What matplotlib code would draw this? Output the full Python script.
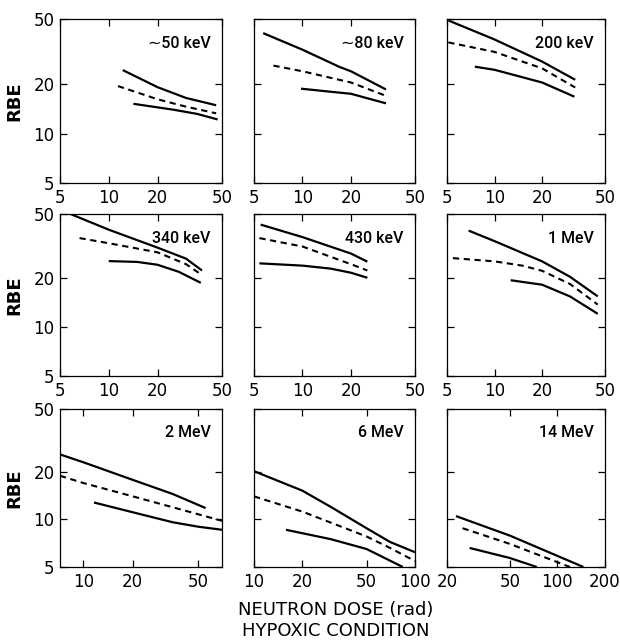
import numpy as np
import matplotlib.pyplot as plt
from matplotlib.ticker import FixedLocator, NullLocator

''' RBE vs dosis de neutrones, condicion hipoxica (9 energias) '''

energias = ['\u223c50 keV', '\u223c80 keV', '200 keV',
            '340 keV', '430 keV', '1 MeV',
            '2 MeV', '6 MeV', '14 MeV']

# Limites y ticks del eje x de cada panel
x_lim = [(5, 50), (5, 50), (5, 50),
         (5, 50), (5, 50), (5, 50),
         (7.2, 70), (10, 100), (20, 200)]
x_ticks = [[5, 10, 20, 50], [5, 10, 20, 50], [5, 10, 20, 50],
           [5, 10, 20, 50], [5, 10, 20, 50], [5, 10, 20, 50],
           [10, 20, 50], [10, 20, 50, 100], [20, 50, 100, 200]]
y_ticks = [5, 10, 20, 50]

# ~50 keV
d_50_sup = [12.2, 20, 30, 46]
r_50_sup = [24.4, 19.2, 16.5, 14.9]
d_50_med = [11.4, 20, 30, 46]
r_50_med = [19.5, 16.2, 14.6, 13.3]
d_50_inf = [14.2, 25, 35, 47]
r_50_inf = [15.2, 14.0, 13.2, 12.2]

# ~80 keV
d_80_sup = [5.7, 10, 17, 20, 33]
r_80_sup = [41, 32.5, 25.5, 24, 18.6]
d_80_med = [6.6, 10, 20, 33]
r_80_med = [26, 24, 20.5, 17]
d_80_inf = [9.8, 15, 20, 33]
r_80_inf = [18.8, 18.0, 17.5, 15.3]

# 200 keV
d_200_sup = [5.1, 10, 20, 32.4]
r_200_sup = [49, 37.5, 27.5, 21.3]
d_200_med = [5.1, 10, 20, 32.4]
r_200_med = [36, 31.5, 25, 19.1]
d_200_inf = [7.5, 10, 20, 32]
r_200_inf = [25.6, 24.5, 20.5, 16.8]

# 340 keV
d_340_sup = [5.8, 10, 20, 30, 37.6]
r_340_sup = [50, 40, 31, 26.5, 22.4]
d_340_med = [6.6, 10, 20, 30, 37.6]
r_340_med = [35.5, 33, 29, 24.5, 21]
d_340_inf = [10, 15, 20, 27, 37]
r_340_inf = [25.6, 25.3, 24.3, 22, 18.8]

# 430 keV
d_430_sup = [5.5, 10, 20, 25.3]
r_430_sup = [43, 36, 28.5, 25.4]
d_430_med = [5.4, 10, 20, 25.3]
r_430_med = [35.5, 31.5, 24.5, 22.4]
d_430_inf = [5.4, 10, 15, 20, 25.3]
r_430_inf = [24.8, 24, 23, 21.7, 20.2]

# 1 MeV
d_1M_sup = [6.85, 10, 20, 30, 45]
r_1M_sup = [39.5, 34, 25.5, 20.5, 15.5]
d_1M_med = [5.45, 10, 15, 20, 30, 45]
r_1M_med = [26.7, 25.5, 24, 22.3, 18.5, 13.8]
d_1M_inf = [12.65, 20, 30, 45]
r_1M_inf = [19.5, 18.3, 15.5, 12.1]

# 2 MeV
d_2M_sup = [7.2, 10, 20, 35, 55.6]
r_2M_sup = [25.8, 23, 17.8, 14.5, 11.8]
d_2M_med = [7.2, 10, 20, 40, 70]
r_2M_med = [18.9, 17, 14, 11.5, 9.8]
d_2M_inf = [11.6, 20, 35, 50, 70]
r_2M_inf = [12.8, 11.1, 9.6, 9.0, 8.6]

# 6 MeV
d_6M_sup = [10, 20, 30, 50, 70, 100]
r_6M_sup = [20.2, 15.2, 12.0, 8.8, 7.2, 6.2]
d_6M_med = [10, 20, 50, 70, 100]
r_6M_med = [14, 11.2, 7.8, 6.6, 5.45]
d_6M_inf = [15.8, 30, 50, 84]
r_6M_inf = [8.6, 7.5, 6.5, 5.0]

# 14 MeV
d_14M_sup = [22.8, 50, 146]
r_14M_sup = [10.5, 7.9, 5.0]
d_14M_med = [25.1, 50, 120]
r_14M_med = [8.8, 7.0, 5.0]
d_14M_inf = [27.8, 50, 74]
r_14M_inf = [6.6, 5.7, 5.0]

curvas = [
    [(d_50_sup, r_50_sup), (d_50_med, r_50_med), (d_50_inf, r_50_inf)],
    [(d_80_sup, r_80_sup), (d_80_med, r_80_med), (d_80_inf, r_80_inf)],
    [(d_200_sup, r_200_sup), (d_200_med, r_200_med), (d_200_inf, r_200_inf)],
    [(d_340_sup, r_340_sup), (d_340_med, r_340_med), (d_340_inf, r_340_inf)],
    [(d_430_sup, r_430_sup), (d_430_med, r_430_med), (d_430_inf, r_430_inf)],
    [(d_1M_sup, r_1M_sup), (d_1M_med, r_1M_med), (d_1M_inf, r_1M_inf)],
    [(d_2M_sup, r_2M_sup), (d_2M_med, r_2M_med), (d_2M_inf, r_2M_inf)],
    [(d_6M_sup, r_6M_sup), (d_6M_med, r_6M_med), (d_6M_inf, r_6M_inf)],
    [(d_14M_sup, r_14M_sup), (d_14M_med, r_14M_med), (d_14M_inf, r_14M_inf)],
]

# posicion de los paneles en pixeles (figura de 620x640)
col_x = [60, 254, 447]
col_w = [162, 161, 158]
fila_y = [(19, 183), (214, 376), (409, 567)]

fig = plt.figure(figsize=(6.2, 6.4), dpi=100)
plt.rcParams['font.family'] = 'DejaVu Sans'

for k in range(9):
    fila, col = k // 3, k % 3
    top, bot = fila_y[fila]
    ax = fig.add_axes([col_x[col] / 620, 1 - bot / 640,
                       col_w[col] / 620, (bot - top) / 640])
    ax.set_xscale('log')
    ax.set_yscale('log')

    sup, med, inf = curvas[k]
    ax.plot(sup[0], sup[1], color='k', lw=1.6, solid_capstyle='butt')
    ax.plot(med[0], med[1], color='k', lw=1.5, dashes=(3, 2.2))
    ax.plot(inf[0], inf[1], color='k', lw=1.6, solid_capstyle='butt')

    ax.set_xlim(x_lim[k])
    ax.set_ylim(5, 50)
    ax.xaxis.set_major_locator(FixedLocator(x_ticks[k]))
    ax.xaxis.set_minor_locator(NullLocator())
    ax.yaxis.set_major_locator(FixedLocator(y_ticks))
    ax.yaxis.set_minor_locator(NullLocator())
    ax.set_xticklabels([str(t) for t in x_ticks[k]])
    ax.tick_params(direction='in', length=5, width=0.9, top=True, right=True,
                   labelsize=12, pad=4)
    if col == 0:
        ax.set_yticklabels([str(t) for t in y_ticks])
        ax.set_ylabel('RBE', fontsize=13, fontweight='bold', labelpad=7)
    else:
        ax.set_yticklabels([])
    for s in ax.spines.values():
        s.set_linewidth(0.9)

    ax.text(0.93, 0.85, energias[k], transform=ax.transAxes, ha='right',
            va='center', fontsize=11.5, family=['Roboto', 'DejaVu Sans'],
            fontweight='medium')

fig.text(336 / 620, 1 - 610 / 640, 'NEUTRON DOSE (rad)', ha='center',
         va='center', fontsize=13)
fig.text(336 / 620, 1 - 631 / 640, 'HYPOXIC CONDITION', ha='center',
         va='center', fontsize=13)

plt.savefig('out.png', dpi=100)
